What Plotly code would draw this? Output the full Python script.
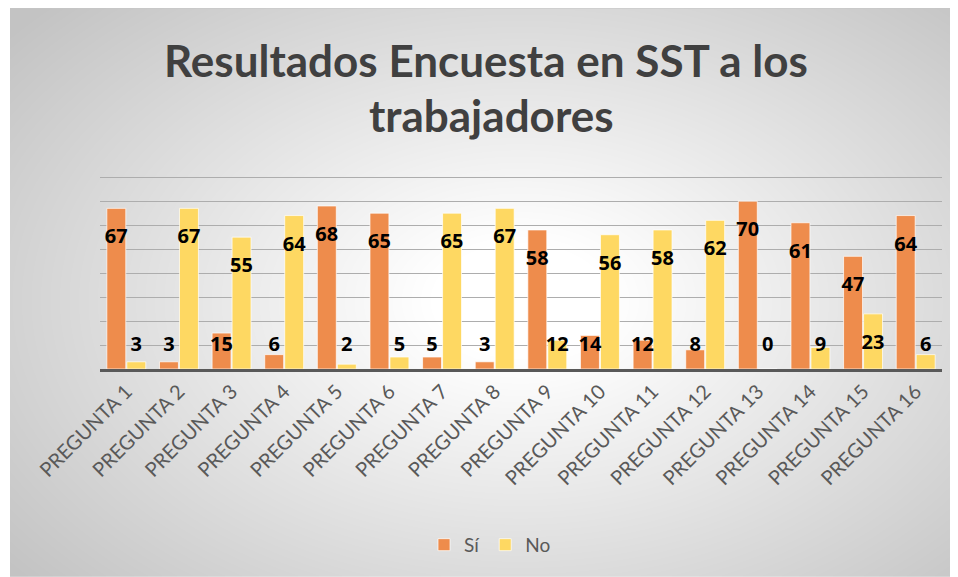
import base64
import struct
import zlib

import numpy as np
import plotly.graph_objects as go

# ---------------- data ----------------
categories = [f"PREGUNTA {i}" for i in range(1, 17)]
si_values = [67, 3, 15, 6, 68, 65, 5, 3, 58, 14, 12, 8, 70, 61, 47, 64]
no_values = [3, 67, 55, 64, 2, 5, 65, 67, 12, 56, 58, 62, 0, 9, 23, 6]
series_names = ["Sí", "No"]
title_lines = ["Resultados Encuesta en SST a los", "trabajadores"]

# ---------------- layout geometry ----------------
# the page body adds an 8px margin; work in page coordinates and convert
OFF = 8
PAGE_W, PAGE_H = 958, 577
W, H = PAGE_W - OFF, PAGE_H - OFF
Y_MAX = 80.5
PLOT_L, PLOT_R = 100, 942           # page x of plot area
BASE_Y = 369                        # page y of value 0
PX_PER_UNIT = 2.4
PLOT_T = BASE_Y - Y_MAX * PX_PER_UNIT

ML = PLOT_L - OFF
MR = PAGE_W - PLOT_R
MT = PLOT_T - OFF
MB = PAGE_H - BASE_Y
PW = PLOT_R - PLOT_L
PH = BASE_Y - PLOT_T


def px_x(page_x):
    return (page_x - PLOT_L) / PW


def px_y(page_y):
    return (BASE_Y - page_y) / PH


# ---------------- radial gradient background (PNG) ----------------
BX0, BY0 = 10, 7                    # page coords where the chart area starts
BW, BH = PAGE_W - BX0, PAGE_H - BY0
yy, xx = np.mgrid[0:BH, 0:BW].astype(float)
cx, cy = 520 - BX0, 300 - BY0
d = np.sqrt(((xx - cx) / 600.0) ** 2 + ((yy - cy) / 390.0) ** 2)
t = np.clip((d - 0.15) / 0.95, 0, 1)
img = (255 - 60 * t).astype(np.uint8)


def png_gray(arr):
    h, w = arr.shape
    raw = b"".join(b"\x00" + arr[i].tobytes() for i in range(h))

    def chunk(tag, data):
        c = struct.pack(">I", len(data)) + tag + data
        return c + struct.pack(">I", zlib.crc32(tag + data) & 0xFFFFFFFF)

    return (b"\x89PNG\r\n\x1a\n"
            + chunk(b"IHDR", struct.pack(">IIBBBBB", w, h, 8, 0, 0, 0, 0))
            + chunk(b"IDAT", zlib.compress(raw, 9))
            + chunk(b"IEND", b""))


bg_src = "data:image/png;base64," + base64.b64encode(png_gray(img)).decode()

# ---------------- figure ----------------
xs = list(range(len(categories)))
SI_COLOR = "#EE8C4C"
NO_COLOR = "#FED862"

fig = go.Figure()
fig.add_trace(go.Bar(
    x=xs, y=si_values, name=series_names[0], width=0.36, offset=-0.37,
    marker=dict(color=SI_COLOR, line=dict(color="rgba(255,255,255,0.7)", width=1)),
))
fig.add_trace(go.Bar(
    x=xs, y=no_values, name=series_names[1], width=0.36, offset=0.01,
    marker=dict(color=NO_COLOR, line=dict(color="rgba(255,255,255,0.7)", width=1)),
))


# data labels placed "inside end" like the original (min height for small bars)
def label_y(vals):
    return [max(v - 12.5, 9.6) for v in vals]


lab_font = dict(family="Open Sans", size=20, color="black", weight="bold")
fig.add_trace(go.Scatter(
    x=[x - 0.19 for x in xs], y=label_y(si_values), text=[str(v) for v in si_values],
    mode="text", textfont=lab_font, showlegend=False, hoverinfo="skip", cliponaxis=False,
))
fig.add_trace(go.Scatter(
    x=[x + 0.19 for x in xs], y=label_y(no_values), text=[str(v) for v in no_values],
    mode="text", textfont=lab_font, showlegend=False, hoverinfo="skip", cliponaxis=False,
))

title_font = dict(family="Lato, Open Sans, sans-serif", size=44,
                  color="#404040", weight="bold")
annotations = [
    dict(text=title_lines[0], xref="paper", yref="paper",
         x=px_x(486), y=px_y(60), xanchor="center", yanchor="middle",
         showarrow=False, font=title_font),
    dict(text=title_lines[1], xref="paper", yref="paper",
         x=px_x(491), y=px_y(115), xanchor="center", yanchor="middle",
         showarrow=False, font=title_font),
]

fig.update_layout(
    width=W, height=H,
    margin=dict(l=ML, r=MR, t=MT, b=MB, pad=0, autoexpand=False),
    paper_bgcolor="white",
    plot_bgcolor="rgba(0,0,0,0)",
    barmode="overlay",
    showlegend=True,
    legend=dict(orientation="h", x=px_x(490), y=px_y(545),
                xanchor="center", yanchor="middle",
                font=dict(family="Lato, Open Sans", size=19, color="#595959"),
                bgcolor="rgba(0,0,0,0)", itemwidth=30),
    annotations=annotations,
    images=[dict(source=bg_src, xref="paper", yref="paper",
                 x=px_x(BX0), y=px_y(BY0),
                 sizex=BW / PW, sizey=BH / PH,
                 xanchor="left", yanchor="top", sizing="stretch", layer="below")],
    shapes=[dict(type="line", xref="paper", yref="paper",
                 x0=px_x(BX0), x1=px_x(PAGE_W),
                 y0=px_y(BY0 + 0.5), y1=px_y(BY0 + 0.5),
                 line=dict(color="#c6c6c6", width=1.5))],
)

fig.update_xaxes(
    range=[-0.5, 15.5], tickmode="array", tickvals=xs, ticktext=categories,
    tickangle=-45, tickfont=dict(family="Lato, Open Sans", size=20, color="#595959"),
    showgrid=False, showline=True, linecolor="#595959", linewidth=3,
    ticks="", zeroline=False, fixedrange=True, automargin=False,
)
fig.update_yaxes(
    range=[0, Y_MAX], dtick=10, showticklabels=False, showgrid=True,
    gridcolor="#adadad", gridwidth=1.3, zeroline=False, showline=False, fixedrange=True,
)

fig.write_html("out.html")
